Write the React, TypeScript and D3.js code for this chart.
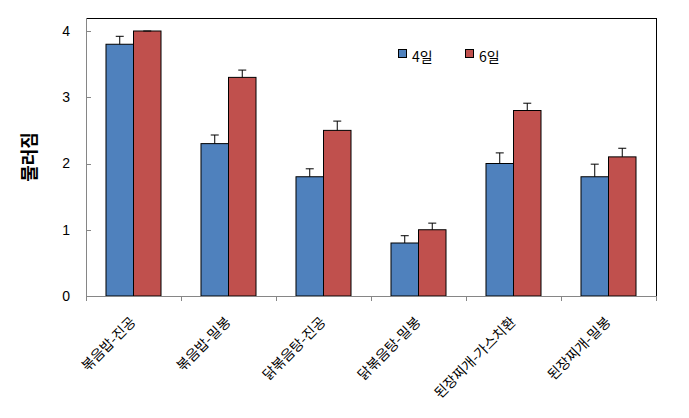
import React from "react";
import * as d3 from "d3";

const categories = ["볶음밥-진공", "볶음밥-밀봉", "닭볶음탕-진공", "닭볶음탕-밀봉", "된장찌개-가스치환", "된장찌개-밀봉"];
const seriesNames = ["4일", "6일"];
const day4 = [3.8, 2.3, 1.8, 0.8, 2.0, 1.8];
const day6 = [4.0, 3.3, 2.5, 1.0, 2.8, 2.1];
const day4Err = [0.12, 0.13, 0.12, 0.11, 0.16, 0.19];
const day6Err = [0.0, 0.11, 0.14, 0.1, 0.11, 0.13];
const yTicks = [0, 1, 2, 3, 4];
const yLabel = "물러짐";

const W = 689;
const H = 418;
const M = { left: 86, right: 656, top: 18, bottom: 296 };
const colors = ["#4F81BD", "#C0504D"];

export default function App() {
  const x = d3.scaleBand<string>().domain(categories).range([M.left, M.right]).paddingInner(0).paddingOuter(0);
  const inner = d3.scaleBand<string>().domain(seriesNames).range([0, x.bandwidth()]).paddingInner(0).paddingOuter(0.727);
  const yy = d3.scaleLinear().domain([0, 4]).range([M.bottom, 31]);
  const series = [
    { name: seriesNames[0], values: day4, err: day4Err },
    { name: seriesNames[1], values: day6, err: day6Err },
  ];
  const bw = inner.bandwidth();
  return (
    <svg width={W} height={H} style={{ display: "block", position: "absolute", left: 0, top: 0 }}>
      <rect x={0} y={0} width={W} height={H} fill="#fff" />
      <line x1={M.left} x2={M.right} y1={M.top + 0.5} y2={M.top + 0.5} stroke="#000" strokeWidth={1} />
      <line x1={M.right + 0.5} x2={M.right + 0.5} y1={M.top} y2={M.bottom} stroke="#000" strokeWidth={1} />
      {series.map((s, si) =>
        categories.map((c, ci) => {
          const bx = (x(c) as number) + (inner(s.name) as number);
          const top = yy(s.values[ci]);
          const et = yy(s.values[ci] + s.err[ci]);
          const cx = bx + bw / 2;
          return (
            <g key={`${si}-${ci}`}>
              <rect x={bx} y={top} width={bw} height={M.bottom - top} fill={colors[si]} stroke="#000" strokeWidth={1} />
              <line x1={cx} x2={cx} y1={top} y2={et} stroke="#000" strokeWidth={1} />
              <line x1={cx - 4} x2={cx + 4} y1={et} y2={et} stroke="#000" strokeWidth={1} />
            </g>
          );
        })
      )}
      <line x1={M.left + 0.5} x2={M.left + 0.5} y1={M.top} y2={M.bottom} stroke="#868686" strokeWidth={1} />
      {yTicks.map((t) => (
        <g key={t}>
          <line x1={M.left} x2={M.left + 5} y1={Math.round(yy(t)) + 0.5} y2={Math.round(yy(t)) + 0.5} stroke="#868686" />
          <text x={70} y={yy(t)} dy="0.35em" textAnchor="end" fontFamily="'Liberation Sans', Arial, sans-serif" fontSize={14} fill="#000">
            {t}
          </text>
        </g>
      ))}
      <line x1={M.left} x2={M.right} y1={M.bottom + 0.5} y2={M.bottom + 0.5} stroke="#868686" strokeWidth={1} />
      {d3.range(categories.length + 1).map((i) => {
        const tx = Math.round(M.left + i * x.step()) + 0.5;
        return <line key={i} x1={tx} x2={tx} y1={M.bottom} y2={M.bottom + 5} stroke="#868686" />;
      })}
      {categories.map((c) => {
        const cx = (x(c) as number) + x.bandwidth() / 2;
        return (
          <text
            key={c}
            transform={`translate(${cx + 3},${M.bottom + 27}) rotate(-45)`}
            textAnchor="end"
            fontFamily="'Noto Sans CJK KR', sans-serif"
            fontSize={14}
            fill="#000"
          >
            {c}
          </text>
        );
      })}
      <text
        transform={`translate(36,157) rotate(-90)`}
        textAnchor="middle"
        fontFamily="'Noto Sans CJK KR', sans-serif"
        fontWeight="bold"
        fontSize={18}
        fill="#000"
      >
        {yLabel}
      </text>
      {seriesNames.map((n, i) => {
        const lx = 398 + i * 67;
        return (
          <g key={n}>
            <rect x={lx + 0.5} y={49.5} width={8} height={8} fill={colors[i]} stroke="#000" strokeWidth={1} />
            <text x={lx + 14} y={62} fontFamily="'Noto Sans CJK KR', sans-serif" fontSize={14} fill="#000">
              {n}
            </text>
          </g>
        );
      })}
    </svg>
  );
}
